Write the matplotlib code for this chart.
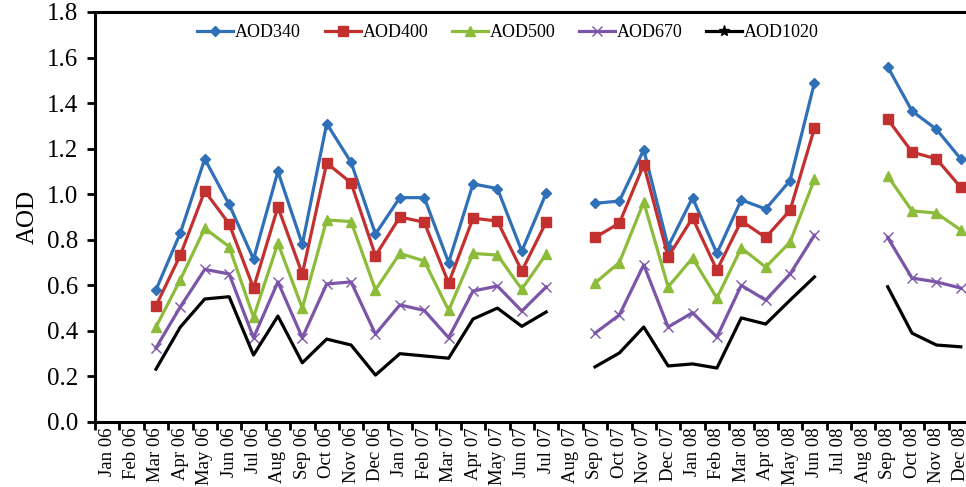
import numpy as np
import matplotlib
matplotlib.use('Agg')
import matplotlib.pyplot as plt
from matplotlib.lines import Line2D
from matplotlib.ticker import FixedLocator, NullFormatter

nan = np.nan

months = ['Jan 06', 'Feb 06', 'Mar 06', 'Apr 06', 'May 06', 'Jun 06', 'Jul 06', 'Aug 06',
          'Sep 06', 'Oct 06', 'Nov 06', 'Dec 06', 'Jan 07', 'Feb 07', 'Mar 07', 'Apr 07',
          'May 07', 'Jun 07', 'Jul 07', 'Aug 07', 'Sep 07', 'Oct 07', 'Nov 07', 'Dec 07',
          'Jan 08', 'Feb 08', 'Mar 08', 'Apr 08', 'May 08', 'Jun 08', 'Jul 08', 'Aug 08',
          'Sep 08', 'Oct 08', 'Nov 08', 'Dec 08']

aod340 = [nan, nan, 0.58, 0.83, 1.155, 0.955, 0.715, 1.10, 0.78, 1.31, 1.14, 0.825,
          0.985, 0.985, 0.70, 1.045, 1.025, 0.75, 1.005, nan, 0.96, 0.97, 1.195, 0.77,
          0.985, 0.74, 0.975, 0.935, 1.06, 1.49, nan, nan, 1.56, 1.365, 1.285, 1.155]
aod400 = [nan, nan, 0.51, 0.733, 1.014, 0.87, 0.588, 0.944, 0.65, 1.137, 1.05, 0.73,
          0.90, 0.877, 0.61, 0.895, 0.882, 0.663, 0.878, nan, 0.81, 0.873, 1.13, 0.725,
          0.896, 0.667, 0.883, 0.81, 0.93, 1.29, nan, nan, 1.33, 1.185, 1.155, 1.03]
aod500 = [nan, nan, 0.417, 0.625, 0.85, 0.77, 0.46, 0.785, 0.50, 0.887, 0.88, 0.58,
          0.74, 0.707, 0.49, 0.74, 0.733, 0.583, 0.737, nan, 0.61, 0.70, 0.965, 0.593,
          0.72, 0.544, 0.764, 0.68, 0.79, 1.065, nan, nan, 1.08, 0.927, 0.917, 0.843]
aod670 = [nan, nan, 0.325, 0.506, 0.67, 0.65, 0.37, 0.615, 0.37, 0.606, 0.615, 0.386,
          0.514, 0.49, 0.37, 0.575, 0.597, 0.487, 0.593, nan, 0.39, 0.47, 0.69, 0.417,
          0.48, 0.373, 0.60, 0.535, 0.65, 0.82, nan, nan, 0.81, 0.632, 0.615, 0.588]
aod1020 = [nan, nan, 0.232, 0.417, 0.54, 0.55, 0.294, 0.465, 0.26, 0.364, 0.338, 0.206,
           0.30, 0.29, 0.28, 0.452, 0.50, 0.42, 0.483, nan, 0.242, 0.303, 0.417, 0.246,
           0.255, 0.237, 0.457, 0.43, 0.535, 0.637, nan, nan, 0.594, 0.39, 0.338, 0.33]

plt.rcParams['font.family'] = ['Liberation Serif', 'DejaVu Serif']

fig = plt.figure(figsize=(9.66, 4.87), dpi=100)
# axes runs a little past the right edge of the picture, like the original crop
ax = fig.add_axes([95 / 966, 1 - 422 / 487, 878 / 966, 410 / 487])

x = np.arange(len(months))
ax.plot(x, aod340, color='#2F70B9', lw=2.3, marker='D', ms=5.5, label='AOD340')
ax.plot(x, aod400, color='#C2312F', lw=2.3, marker='s', ms=7.5, label='AOD400')
ax.plot(x, aod500, color='#8DBB3A', lw=2.3, marker='^', ms=7.5, label='AOD500')
ax.plot(x, aod670, color='#7B55A8', lw=2.3, marker='x', ms=7, mew=1, label='AOD670')
ax.plot(x, aod1020, color='black', lw=2.3)

ax.set_xlim(-0.5, len(months) - 0.5)
ax.set_ylim(0, 1.8)
ax.set_yticks(np.arange(0, 1.81, 0.2))
ax.set_yticklabels([f'{v:.1f}' for v in np.arange(0, 1.81, 0.2)], fontsize=18)
ax.set_ylabel('AOD', fontsize=18, labelpad=6)

ax.set_xticks(x)
ax.set_xticklabels(months, rotation=90, fontsize=13.5)
ax.tick_params(axis='x', which='major', length=0, pad=4)
ax.xaxis.set_minor_locator(FixedLocator(np.arange(-0.5, len(months), 1)))
ax.xaxis.set_minor_formatter(NullFormatter())
ax.tick_params(axis='x', which='minor', length=6, width=2)
ax.tick_params(axis='y', length=6, width=2, pad=6)

for s in ['left', 'bottom', 'top']:
    ax.spines[s].set_linewidth(2.2)
ax.spines['right'].set_visible(False)

handles, labels = ax.get_legend_handles_labels()
handles.append(Line2D([], [], color='black', lw=2.3, marker='*', ms=8))
labels.append('AOD1020')
fig.legend(handles, labels, loc='upper center', bbox_to_anchor=(508 / 966, 1 - 8 / 487),
           ncol=5, frameon=False, fontsize=13, handlelength=2.0, columnspacing=1.3,
           handletextpad=0.1)

fig.savefig('out.png', dpi=100)
